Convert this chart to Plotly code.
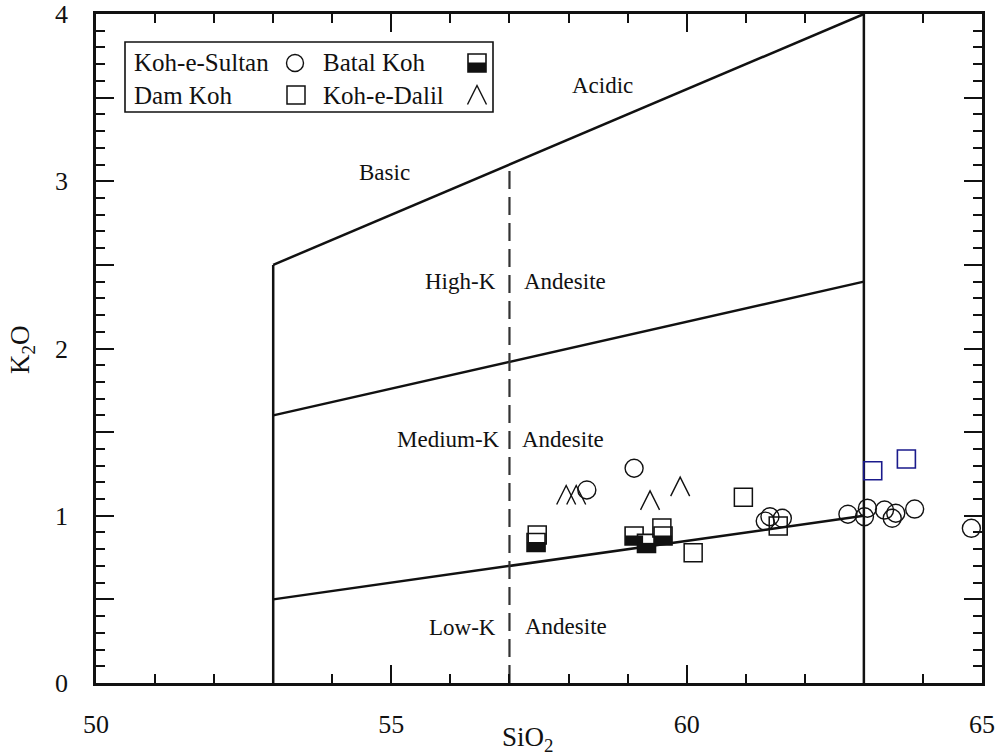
import plotly.graph_objects as go

# ---------------- data ----------------
sultan_x = [58.31, 59.11, 61.33, 61.41, 61.62, 62.73, 63.06, 63.01, 63.35, 63.54, 63.48, 63.86, 64.82]
sultan_y = [1.154, 1.284, 0.968, 0.994, 0.985, 1.009, 1.045, 0.994, 1.034, 1.015, 0.985, 1.040, 0.925]

damkoh_x = [57.47, 59.58, 60.96, 60.11, 61.55]
damkoh_y = [0.885, 0.927, 1.110, 0.779, 0.939]

damkoh_blue_x = [63.15, 63.72]
damkoh_blue_y = [1.269, 1.339]

batal_x = [57.45, 59.11, 59.32, 59.60]
batal_y = [0.840, 0.879, 0.835, 0.879]

dalil_x = [57.96, 58.13, 59.38, 59.89]
dalil_y = [1.124, 1.124, 1.092, 1.174]

# classification boundaries
left_wall_x = [53, 53]
left_wall_y = [0, 2.5]
right_wall_x = [63, 63]
right_wall_y = [0, 4]
upper_x = [53, 63]
upper_y = [2.5, 4.0]
highmed_x = [53, 63]
highmed_y = [1.6, 2.4]
medlow_x = [53, 63]
medlow_y = [0.5, 1.0]
dash_x = [57, 57]
dash_y = [0, 3.1]

x_ticks = [50, 55, 60, 65]
y_ticks = [0, 1, 2, 3, 4]
y_half_ticks = [0.5, 1.5, 2.5, 3.5]

region_labels = [
    ("Acidic", 58.58, 3.57, "center"),
    ("Basic", 54.88, 3.05, "center"),
    ("High-K", 56.81, 2.40, "right"),
    ("Andesite", 57.21, 2.40, "left"),
    ("Medium-K", 56.87, 1.453, "right"),
    ("Andesite", 57.18, 1.453, "left"),
    ("Low-K", 56.81, 0.33, "right"),
    ("Andesite", 57.23, 0.335, "left"),
]

FONT = "Liberation Serif, Tinos, Times New Roman, DejaVu Serif, serif"
INK = "#111111"
BLUE = "#1a1a8c"

fig = go.Figure()

# boundaries
for bx, by in [(left_wall_x, left_wall_y), (right_wall_x, right_wall_y), (upper_x, upper_y),
               (highmed_x, highmed_y), (medlow_x, medlow_y)]:
    fig.add_trace(go.Scatter(x=bx, y=by, mode="lines", line=dict(color=INK, width=2.5),
                             showlegend=False, hoverinfo="skip"))
fig.add_trace(go.Scatter(x=dash_x, y=dash_y, mode="lines", yaxis="y2",
                         line=dict(color="#333333", width=2.2, dash="18px,8px"),
                         showlegend=False, hoverinfo="skip"))

# data
fig.add_trace(go.Scatter(x=sultan_x, y=sultan_y, mode="markers", name="Koh-e-Sultan",
                         marker=dict(symbol="circle-open", size=18, color=INK, line=dict(width=1.4)),
                         showlegend=False))
fig.add_trace(go.Scatter(x=batal_x, y=batal_y, mode="markers", name="Batal Koh",
                         marker=dict(symbol="square", size=18, color="white",
                                     line=dict(width=1.6, color=INK)),
                         showlegend=False))
fig.add_trace(go.Scatter(x=damkoh_x, y=damkoh_y, mode="markers", name="Dam Koh",
                         marker=dict(symbol="square-open", size=18, color=INK, line=dict(width=1.5)),
                         showlegend=False))
fig.add_trace(go.Scatter(x=damkoh_blue_x, y=damkoh_blue_y, mode="markers", name="Dam Koh",
                         marker=dict(symbol="square-open", size=18, color=BLUE, line=dict(width=1.6)),
                         showlegend=False))
fig.add_trace(go.Scatter(x=dalil_x, y=dalil_y, mode="markers", name="Koh-e-Dalil",
                         marker=dict(symbol="circle", size=18, color="rgba(0,0,0,0)"),
                         showlegend=False))

shapes = []
# Batal Koh lower half fill
for bx, by in zip(batal_x, batal_y):
    shapes.append(dict(type="rect", xref="x", yref="y", xsizemode="pixel", ysizemode="pixel",
                       xanchor=bx, yanchor=by, x0=-9, x1=9, y0=-9, y1=0.5,
                       fillcolor=INK, line=dict(width=0), layer="above"))
# Koh-e-Dalil carets
for dx, dy in zip(dalil_x, dalil_y):
    shapes.append(dict(type="path", xref="x", yref="y", xsizemode="pixel", ysizemode="pixel",
                       xanchor=dx, yanchor=dy, path="M-9.5,-9.5 L0,9.5 L9.5,-9.5",
                       line=dict(color=INK, width=1.4), layer="above"))

# ---------------- custom legend ----------------
def px2paper(px, py):
    return (px - 96) / 886.0, (683 - py) / 669.0

lx0, ly0 = px2paper(125, 112)
lx1, ly1 = px2paper(493, 42)
shapes.append(dict(type="rect", xref="paper", yref="paper", x0=lx0, y0=ly0, x1=lx1, y1=ly1,
                   line=dict(color=INK, width=1.6), fillcolor="white", layer="above"))

cx, cy = px2paper(295, 63)
shapes.append(dict(type="circle", xref="paper", yref="paper", xsizemode="pixel", ysizemode="pixel",
                   xanchor=cx, yanchor=cy, x0=-8.5, x1=8.5, y0=-8.5, y1=8.5,
                   line=dict(color=INK, width=1.4), layer="above"))
sx, sy = px2paper(296, 95)
shapes.append(dict(type="rect", xref="paper", yref="paper", xsizemode="pixel", ysizemode="pixel",
                   xanchor=sx, yanchor=sy, x0=-9, x1=9, y0=-9, y1=9,
                   line=dict(color=INK, width=1.5), layer="above"))
bx_, by_ = px2paper(477, 63)
shapes.append(dict(type="rect", xref="paper", yref="paper", xsizemode="pixel", ysizemode="pixel",
                   xanchor=bx_, yanchor=by_, x0=-9, x1=9, y0=-9, y1=9,
                   line=dict(color=INK, width=1.6), fillcolor="white", layer="above"))
shapes.append(dict(type="rect", xref="paper", yref="paper", xsizemode="pixel", ysizemode="pixel",
                   xanchor=bx_, yanchor=by_, x0=-9, x1=9, y0=-9, y1=0.5,
                   fillcolor=INK, line=dict(width=0), layer="above"))
kx, ky = px2paper(477, 95)
shapes.append(dict(type="path", xref="paper", yref="paper", xsizemode="pixel", ysizemode="pixel",
                   xanchor=kx, yanchor=ky, path="M-9.5,-9.5 L0,9.5 L9.5,-9.5",
                   line=dict(color=INK, width=1.4), layer="above"))

annotations = []
for txt, px, py in [("Koh-e-Sultan", 132, 63), ("Dam Koh", 132, 95),
                    ("Batal Koh", 321, 63), ("Koh-e-Dalil", 321, 95)]:
    ax_, ay_ = px2paper(px, py)
    annotations.append(dict(text=txt, x=ax_, y=ay_, xref="paper", yref="paper", xanchor="left",
                            yanchor="middle", showarrow=False,
                            font=dict(family=FONT, size=25, color=INK)))

for txt, x, y, anc in region_labels:
    annotations.append(dict(text=txt, x=x, y=y, xref="x", yref="y", xanchor=anc, yanchor="middle",
                            showarrow=False, font=dict(family=FONT, size=23, color=INK)))

tx, ty = px2paper(527, 739)
annotations.append(dict(text="SiO<sub>2</sub>", x=tx, y=ty, xref="paper", yref="paper",
                        xanchor="center", yanchor="middle", showarrow=False,
                        font=dict(family=FONT, size=27, color=INK)))
kx2, ky2 = px2paper(22, 350)
annotations.append(dict(text="K<sub>2</sub>O", x=kx2, y=ky2, xref="paper", yref="paper",
                        xanchor="center", yanchor="middle", textangle=-90, showarrow=False,
                        font=dict(family=FONT, size=27, color=INK)))

fig.update_layout(
    width=997, height=756,
    margin=dict(l=96, r=15, t=14, b=73, autoexpand=False),
    plot_bgcolor="white", paper_bgcolor="white",
    shapes=shapes, annotations=annotations,
    showlegend=False,
    yaxis2=dict(overlaying="y", anchor="x", side="left", range=[0, 4], tickvals=y_half_ticks,
                ticks="inside", ticklen=18, tickwidth=2, tickcolor=INK, showticklabels=False,
                showline=True, linecolor=INK, linewidth=2.5, mirror="ticks",
                showgrid=False, zeroline=False, automargin=False),
)
fig.update_xaxes(range=[50, 65], tickvals=x_ticks, ticks="inside", ticklen=18, tickwidth=2,
                 tickcolor=INK, showline=True, linecolor=INK, linewidth=2.5, mirror="ticks",
                 showgrid=False, zeroline=False, ticklabelstandoff=16, automargin=False,
                 tickfont=dict(family=FONT, size=26, color=INK),
                 minor=dict(dtick=1, ticks="inside", ticklen=9, tickwidth=2, tickcolor=INK, showgrid=False))
fig.update_layout(yaxis=dict(range=[0, 4], tickvals=y_ticks, ticks="inside", ticklen=18, tickwidth=2,
                             tickcolor=INK, showline=True, linecolor=INK, linewidth=2.5, mirror="ticks",
                             showgrid=False, zeroline=False, ticklabelstandoff=20, automargin=False,
                             tickfont=dict(family=FONT, size=26, color=INK),
                             minor=dict(dtick=0.1, ticks="inside", ticklen=9, tickwidth=2,
                                        tickcolor=INK, showgrid=False)))

fig.write_html("out.html", config={"displayModeBar": False},
               post_script="document.body.style.margin='0';document.body.style.overflow='hidden';")
